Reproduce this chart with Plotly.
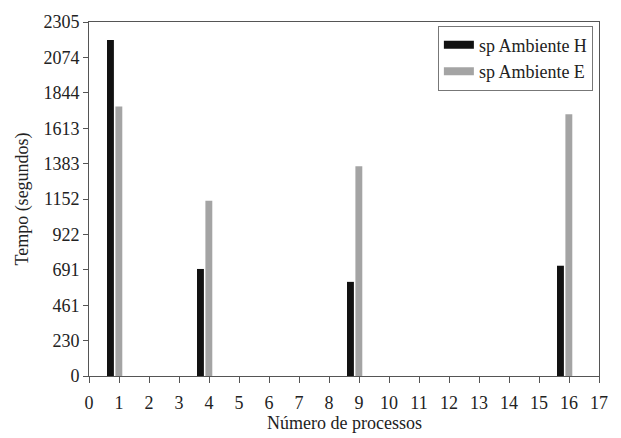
import plotly.graph_objects as go

# Data
processes = [1, 4, 9, 16]
ambiente_h = [2188, 697, 613, 718]
ambiente_e = [1755, 1141, 1365, 1704]
series_names = ["sp Ambiente H", "sp Ambiente E"]
y_tick_labels = ["0", "230", "461", "691", "922", "1152", "1383", "1613", "1844", "2074", "2305"]
y_tick_vals = [0, 230.5, 461, 691.5, 922, 1152.5, 1383, 1613.5, 1844, 2074.5, 2305]
x_ticks = list(range(0, 18))

FONT = "Liberation Serif"
COL_H = "#111111"
COL_E = "#a4a4a4"

fig = go.Figure()
fig.add_trace(go.Bar(
    x=processes, y=ambiente_h, name=series_names[0], showlegend=False,
    marker=dict(color=COL_H, line=dict(width=0)),
    width=0.23, offset=-0.40,
))
fig.add_trace(go.Bar(
    x=processes, y=ambiente_e, name=series_names[1], showlegend=False,
    marker=dict(color=COL_E, line=dict(width=0)),
    width=0.23, offset=-0.12,
))
# legend swatches (wide rectangles as in the reference)
for name, col in zip(series_names, [COL_H, COL_E]):
    fig.add_trace(go.Scatter(
        x=[None], y=[None], mode="lines", name=name,
        line=dict(color=col, width=8),
    ))

fig.update_layout(
    width=621, height=438,
    margin=dict(l=89, r=22, t=12, b=62),
    paper_bgcolor="white", plot_bgcolor="white",
    barmode="overlay",
    font=dict(family=FONT, size=18, color="#222"),
    legend=dict(
        x=0.988, y=0.99, xanchor="right", yanchor="top",
        bordercolor="#777", borderwidth=1, bgcolor="white",
        font=dict(family=FONT, size=18, color="#222"),
        itemwidth=30, tracegroupgap=0,
    ),
    showlegend=True,
    annotations=[dict(
        text="Número de processos", xref="paper", yref="paper",
        x=0.5, y=-0.132, xanchor="center", yanchor="middle",
        showarrow=False, font=dict(family=FONT, size=18, color="#222"),
    )],
)
fig.update_xaxes(
    range=[0, 17], tickvals=x_ticks, ticktext=[str(v) for v in x_ticks],
    showline=True, linecolor="#555", linewidth=1, mirror=True,
    ticks="outside", ticklen=6, tickcolor="#555",
    showgrid=False, zeroline=False,
    ticklabelstandoff=4,
    tickfont=dict(family=FONT, size=18),
)
fig.update_yaxes(
    range=[0, 2305], tickvals=y_tick_vals, ticktext=y_tick_labels,
    showline=True, linecolor="#555", linewidth=1, mirror=True,
    ticks="outside", ticklen=5, tickcolor="#555",
    showgrid=False, zeroline=False,
    title=dict(text="Tempo (segundos)", font=dict(family=FONT, size=18), standoff=10),
    tickfont=dict(family=FONT, size=18),
)

fig.write_html("out.html")
